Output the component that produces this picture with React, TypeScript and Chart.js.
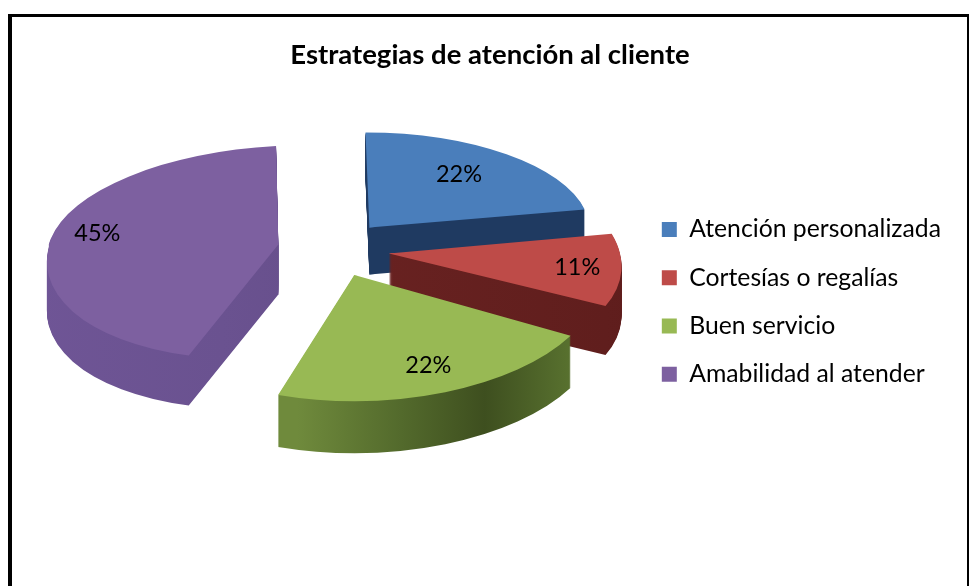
import React, { useEffect, useRef } from "react";
import { Chart, registerables } from "chart.js";

Chart.register(...registerables);

const titleText = "Estrategias de atención al cliente";
const categories = ["Atención personalizada", "Cortesías o regalías", "Buen servicio", "Amabilidad al atender"];
const shares = [22, 11, 22, 45];
const percentLabels = ["22%", "11%", "22%", "45%"];

const faceColors = ["#4a7ebb", "#be4b48", "#98b954", "#7d60a0"];
// wall shading: [position along the pie's width, colour]
const wallShades: [number, string][][] = [
  [[0, "#1f3a61"], [1, "#1f3a61"]],
  [[0, "#6d2423"], [1, "#5e1d1c"]],
  [[0.34, "#6f8a3c"], [0.55, "#536a2c"], [0.72, "#3e4f1f"], [0.94, "#5f7a33"]],
  [[0, "#6f5596"], [0.5, "#6a5290"], [1, "#634b85"]],
];

const RADIUS = 230;
const EXPLODE = 224; // Chart.js offset option: moves a slice by a quarter of this
const TILT = 0.5;
// perspective of each slice: [a, b, c, d] of the unit circle -> screen mapping, top half then bottom half
const sliceShape: number[][][] = [
  [[220, 0, 4, 95], [220, 0, 4, 95]],
  [[231, 0, 27, 112], [231, 0, 27, 112]],
  [[247, 0, 0, 126], [247, 0, 0, 126]],
  [[231, -10, -3, 99], [231, -10, -14, 114]],
];
const sliceDepth = [47, 49, 52, 50];
const paintOrder = [3, 0, 1, 2];
const labelReach = [0.7, 0.81, 0.78, 0.81];
const labelTurnDeg = [-3, 0, -1, 5];
const LABEL_FONT = "23.5px Lato";

function paintPiece(ctx: CanvasRenderingContext2D, el: any, fill: any, shape: number[], ax: number, ay: number, fx: number, fy: number, dy: number) {
  const saved = el.options;
  el.options = Object.assign({}, saved, { backgroundColor: fill });
  // Chart.js enlarges an offset arc by offset * (1 - sin(circumference)); undo that here
  const circ = el.endAngle - el.startAngle;
  const drawnR = RADIUS + (EXPLODE / 4) * (1 - Math.sin(Math.min(Math.PI, circ)));
  ctx.save();
  ctx.translate(ax, ay + dy);
  ctx.transform(shape[0] / drawnR, shape[1] / drawnR, shape[2] / drawnR, shape[3] / drawnR, 0, 0);
  ctx.translate(-fx, -fy);
  el.draw(ctx);
  ctx.restore();
  el.options = saved;
}

function paintSlice(ctx: CanvasRenderingContext2D, el: any, fill: any, i: number, ax: number, ay: number, fx: number, fy: number, dy: number) {
  const [top, bottom] = sliceShape[i];
  if (top === bottom) {
    paintPiece(ctx, el, fill, top, ax, ay, fx, fy, dy);
    return;
  }
  const yBreak = ay + dy;
  ctx.save();
  ctx.beginPath();
  ctx.rect(0, 0, ctx.canvas.width, yBreak + 0.5);
  ctx.clip();
  paintPiece(ctx, el, fill, top, ax, ay, fx, fy, dy);
  ctx.restore();
  ctx.save();
  ctx.beginPath();
  ctx.rect(0, yBreak - 0.5, ctx.canvas.width, ctx.canvas.height);
  ctx.clip();
  paintPiece(ctx, el, fill, bottom, ax, ay, fx, fy, dy);
  ctx.restore();
}

const pie3d = {
  id: "pie3d",
  beforeDatasetsDraw(chart: any) {
    const ctx: CanvasRenderingContext2D = chart.ctx;
    const arcs = chart.getDatasetMeta(0).data;
    const geo = arcs.map((el: any) => {
      const mid = (el.startAngle + el.endAngle) / 2;
      const e = EXPLODE / 4;
      return {
        ax: el.x + e * Math.cos(mid),
        ay: el.y + TILT * e * Math.sin(mid),
        fx: el.x + e * Math.cos(mid),
        fy: el.y + e * Math.sin(mid),
        mid,
      };
    });
    for (const i of paintOrder) {
      const el = arcs[i];
      const g = geo[i];
      const grad = ctx.createLinearGradient(g.fx - RADIUS, 0, g.fx + RADIUS, 0);
      for (const [p, c] of wallShades[i]) grad.addColorStop(p, c);
      for (let d = sliceDepth[i]; d >= 1; d--) paintSlice(ctx, el, grad, i, g.ax, g.ay, g.fx, g.fy, d);
      paintSlice(ctx, el, faceColors[i], i, g.ax, g.ay, g.fx, g.fy, 0);
    }
    ctx.save();
    ctx.fillStyle = "#000";
    ctx.font = LABEL_FONT;
    ctx.textAlign = "center";
    ctx.textBaseline = "middle";
    arcs.forEach((el: any, i: number) => {
      const g = geo[i];
      const t = g.mid + (labelTurnDeg[i] * Math.PI) / 180;
      const u = Math.cos(t) * labelReach[i];
      const v = Math.sin(t) * labelReach[i];
      const s = sliceShape[i][v < 0 ? 0 : 1];
      ctx.fillText(percentLabels[i], g.ax + s[0] * u + s[2] * v, g.ay + s[1] * u + s[3] * v);
    });
    ctx.restore();
    return false;
  },
};

export default function App() {
  const ref = useRef<HTMLCanvasElement>(null);
  useEffect(() => {
    const chart = new Chart(ref.current!, {
      type: "pie",
      data: {
        labels: categories,
        datasets: [{ data: shares, backgroundColor: faceColors, borderWidth: 0, offset: EXPLODE }],
      },
      plugins: [pie3d],
      options: {
        responsive: false,
        animation: false,
        radius: RADIUS,
        events: [],
        layout: { padding: { left: 29, right: 18, top: 39, bottom: 176 } },
        plugins: {
          tooltip: { enabled: false },
          title: {
            display: true,
            text: titleText,
            color: "#000",
            font: { family: "Lato", size: 27.5, weight: "bold" },
            padding: { top: 0, bottom: 16 },
          },
          legend: {
            position: "right",
            align: "end",
            labels: {
              boxWidth: 15,
              boxHeight: 15,
              padding: 23.5,
              color: "#000",
              font: { family: "Lato", size: 24.75 },
            },
          },
        },
      },
    } as any);
    return () => chart.destroy();
  }, []);
  return (
    <div style={{ position: "fixed", left: 0, top: 0, width: 969, height: 586, overflow: "hidden", background: "#fff" }}>
      <div
        style={{
          position: "absolute",
          left: 8,
          top: 14,
          width: 961,
          height: 640,
          boxSizing: "border-box",
          borderLeft: "4px solid #000",
          borderTop: "3px solid #000",
          borderRight: "2px solid #000",
        }}
      />
      <canvas ref={ref} width={969} height={586} style={{ position: "absolute", left: 0, top: 0, display: "block" }} />
    </div>
  );
}
